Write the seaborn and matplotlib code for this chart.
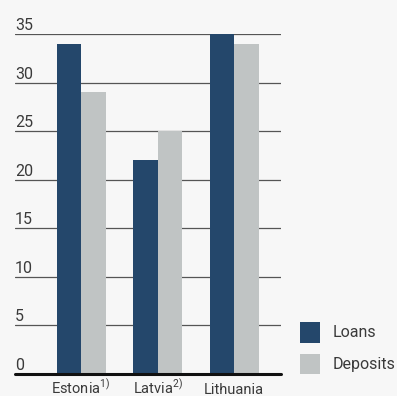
import matplotlib
matplotlib.use("Agg")
import matplotlib.pyplot as plt
import matplotlib.transforms as mtransforms
import pandas as pd
import seaborn as sns

countries = ["Estonia$^{1)}$", "Latvia$^{2)}$", "Lithuania"]
loans = [34, 22, 35]
deposits = [29, 25, 34]
series_names = ["Loans", "Deposits"]
y_ticks = [0, 5, 10, 15, 20, 25, 30, 35]

sns.set_theme(style="white")
plt.rcParams["font.family"] = ["Roboto", "DejaVu Sans"]
plt.rcParams["mathtext.default"] = "regular"

bg = "#f7f7f7"
text_color = "#3a3a3a"
palette = {"Loans": "#24476b", "Deposits": "#c0c4c4"}

df = pd.DataFrame({
    "country": countries * 2,
    "series": [series_names[0]] * 3 + [series_names[1]] * 3,
    "value": loans + deposits,
})

fig = plt.figure(figsize=(3.97, 3.96), dpi=100, facecolor=bg)
ax = fig.add_axes([15 / 397, 22 / 396, 266 / 397, 340 / 396])
ax.set_facecolor(bg)

# horizontal guide lines behind the bars
for t in y_ticks[1:]:
    ax.axhline(t, color="#555555", lw=0.9, zorder=0)

sns.barplot(data=df, x="country", y="value", hue="series", palette=palette,
            width=0.64, gap=0, saturation=1, ax=ax, zorder=2,
            legend=True, edgecolor="none", linewidth=0)

ax.axhline(0, color="#111111", lw=2.2, zorder=3, clip_on=False)
ax.set_xlim(-0.863, 2.614)
ax.set_ylim(0, 35)
ax.set_yticks([])
ax.set_xticks([])
ax.set_xlabel("")
ax.set_ylabel("")
for s in ax.spines.values():
    s.set_visible(False)

# category names on a shared baseline below the axis line
xtrans = mtransforms.blended_transform_factory(ax.transData, ax.transAxes) + \
    mtransforms.ScaledTranslation(0, -20 / 100, fig.dpi_scale_trans)
for i, name in enumerate(countries):
    ax.text(i, 0, name, transform=xtrans, ha="center", va="baseline",
            fontsize=10.5, color=text_color)

# value labels sit just above each guide line, flush with the left edge
ytrans = mtransforms.blended_transform_factory(ax.transAxes, ax.transData) + \
    mtransforms.ScaledTranslation(0, 4 / 100, fig.dpi_scale_trans)
for t in y_ticks:
    ax.text(0.0, t, str(t), transform=ytrans, ha="left", va="baseline",
            fontsize=11.5, color=text_color)

leg = ax.legend(loc="upper left", bbox_to_anchor=(300 / 397, 1 - 322 / 396),
                bbox_transform=fig.transFigure, frameon=False, fontsize=11.5,
                handlelength=1.25, handleheight=1.6, handletextpad=0.8,
                labelspacing=0.7, borderpad=0, borderaxespad=0)
for txt in leg.get_texts():
    txt.set_color(text_color)

fig.savefig("out.png", dpi=100, facecolor=bg)
